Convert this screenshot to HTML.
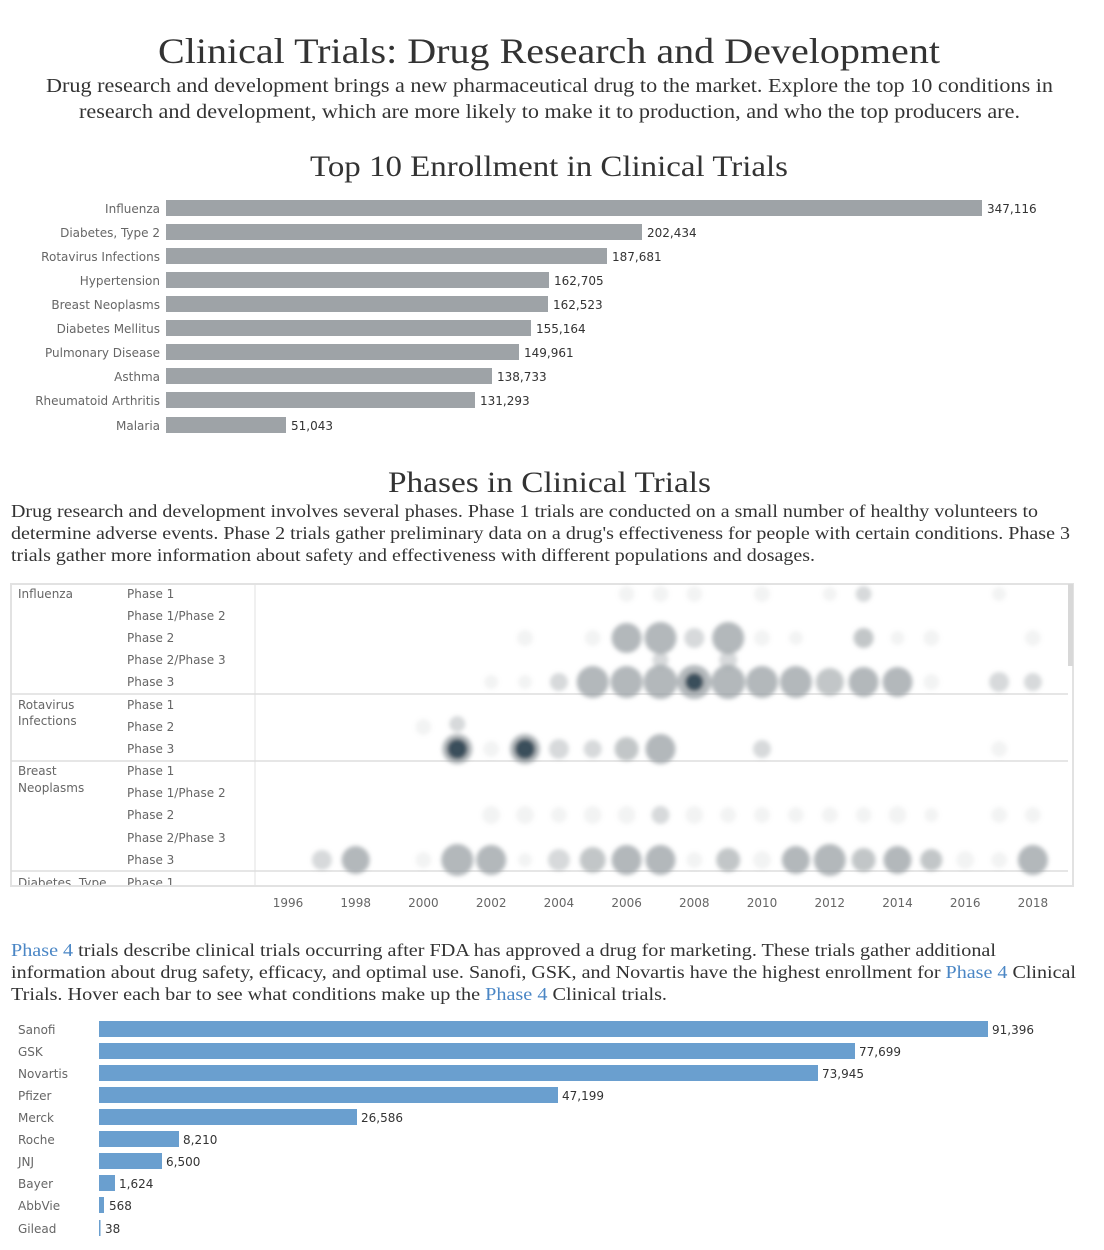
<!DOCTYPE html>
<html><head><meta charset="utf-8"><style>
body{margin:0;background:#fff;}
svg{display:block}
.serif{font-family:"Liberation Serif",serif;fill:#333}
.sans{font-family:"DejaVu Sans","Liberation Sans",sans-serif;font-size:12px;fill:#666}
.val{font-family:"DejaVu Sans","Liberation Sans",sans-serif;font-size:12px;fill:#333}
.g{fill:#9ea3a7}
.bl{fill:#6a9fcf}
.B{fill:#9aa0a4;opacity:.75}
.M{fill:#9aa0a4;opacity:.6}
.S{fill:#9aa0a4;opacity:.4}
.F{fill:#9aa0a4;opacity:.13}
.D{fill:#2f4352;opacity:.9}
.lnk{fill:#4a86c5}
</style></head><body>
<svg width="1104" height="1250" xmlns="http://www.w3.org/2000/svg">
<defs><filter id="bl" x="-50%" y="-50%" width="200%" height="200%"><feGaussianBlur stdDeviation="2.2"/></filter></defs>
<text class="serif" x="158" y="63" font-size="36" textLength="782" lengthAdjust="spacingAndGlyphs">Clinical Trials: Drug Research and Development</text>
<text class="serif" x="46" y="92" font-size="19.5" textLength="1007" lengthAdjust="spacingAndGlyphs">Drug research and development brings a new pharmaceutical drug to the market. Explore the top 10 conditions in</text>
<text class="serif" x="79" y="118" font-size="19.5" textLength="941" lengthAdjust="spacingAndGlyphs">research and development, which are more likely to make it to production, and who the top producers are.</text>
<text class="serif" x="310" y="176" font-size="30" textLength="478" lengthAdjust="spacingAndGlyphs">Top 10 Enrollment in Clinical Trials</text>

<g text-anchor="end" class="sans">
<text x="160" y="213">Influenza</text><text x="160" y="237">Diabetes, Type 2</text><text x="160" y="261">Rotavirus Infections</text><text x="160" y="285">Hypertension</text><text x="160" y="309">Breast Neoplasms</text><text x="160" y="333">Diabetes Mellitus</text><text x="160" y="357">Pulmonary Disease</text><text x="160" y="381">Asthma</text><text x="160" y="405">Rheumatoid Arthritis</text><text x="160" y="430">Malaria</text>
</g>
<g class="g">
<rect x="166" y="200" width="816" height="16"/><rect x="166" y="224" width="476" height="16"/><rect x="166" y="248" width="441" height="16"/><rect x="166" y="272" width="383" height="16"/><rect x="166" y="296" width="382" height="16"/><rect x="166" y="320" width="365" height="16"/><rect x="166" y="344" width="353" height="16"/><rect x="166" y="368" width="326" height="16"/><rect x="166" y="392" width="309" height="16"/><rect x="166" y="417" width="120" height="16"/>
</g>
<g class="val">
<text x="987" y="213">347,116</text><text x="647" y="237">202,434</text><text x="612" y="261">187,681</text><text x="554" y="285">162,705</text><text x="553" y="309">162,523</text><text x="536" y="333">155,164</text><text x="524" y="357">149,961</text><text x="497" y="381">138,733</text><text x="480" y="405">131,293</text><text x="291" y="430">51,043</text>
</g>

<text class="serif" x="388" y="492" font-size="30" textLength="323" lengthAdjust="spacingAndGlyphs">Phases in Clinical Trials</text>
<text class="serif" x="11" y="517" font-size="17.5" textLength="1027" lengthAdjust="spacingAndGlyphs">Drug research and development involves several phases. Phase 1 trials are conducted on a small number of healthy volunteers to</text>
<text class="serif" x="11" y="539" font-size="17.5" textLength="1059" lengthAdjust="spacingAndGlyphs">determine adverse events. Phase 2 trials gather preliminary data on a drug's effectiveness for people with certain conditions. Phase 3</text>
<text class="serif" x="11" y="561" font-size="17.5" textLength="804" lengthAdjust="spacingAndGlyphs">trials gather more information about safety and effectiveness with different populations and dosages.</text>

<rect x="11" y="584" width="1062" height="302" fill="none" stroke="#e2e2e2" stroke-width="2"/>
<line x1="255" y1="584" x2="255" y2="886" stroke="#e2e2e2"/>
<line x1="11" y1="694" x2="1068" y2="694" stroke="#ddd" stroke-width="1.5"/>
<line x1="11" y1="761" x2="1068" y2="761" stroke="#ddd" stroke-width="1.5"/>
<line x1="11" y1="871" x2="1068" y2="871" stroke="#ddd" stroke-width="1.5"/>
<rect x="1068" y="584" width="5" height="82" fill="#d8d8d8"/>
<g class="sans" font-size="11.5">
<text x="18" y="598">Influenza</text><text x="18" y="709">Rotavirus</text><text x="18" y="725">Infections</text><text x="18" y="775">Breast</text><text x="18" y="792">Neoplasms</text><text x="18" y="887">Diabetes, Type</text>
<text x="127" y="598">Phase 1</text><text x="127" y="620">Phase 1/Phase 2</text><text x="127" y="642">Phase 2</text><text x="127" y="664">Phase 2/Phase 3</text><text x="127" y="686">Phase 3</text>
<text x="127" y="709">Phase 1</text><text x="127" y="731">Phase 2</text><text x="127" y="753">Phase 3</text>
<text x="127" y="775">Phase 1</text><text x="127" y="797">Phase 1/Phase 2</text><text x="127" y="819">Phase 2</text><text x="127" y="842">Phase 2/Phase 3</text><text x="127" y="864">Phase 3</text><text x="127" y="887">Phase 1</text>
</g>
<rect x="11" y="885" width="1062" height="10" fill="#fff"/>
<line x1="11" y1="886" x2="1073" y2="886" stroke="#e2e2e2" stroke-width="2"/>
<g filter="url(#bl)">
<circle class="F" cx="626.6" cy="594" r="8"/><circle class="F" cx="660.5" cy="594" r="8"/><circle class="F" cx="694.3" cy="594" r="8"/><circle class="F" cx="762" cy="594" r="8"/><circle class="F" cx="829.8" cy="594" r="7"/><circle class="S" cx="863.6" cy="594" r="8"/><circle class="F" cx="999.1" cy="594" r="7"/>
<circle class="F" cx="525" cy="638" r="8"/><circle class="F" cx="592.7" cy="638" r="8"/><circle class="B" cx="626.6" cy="638" r="15"/><circle class="B" cx="660.5" cy="638" r="16"/><circle class="S" cx="694.3" cy="638" r="10"/><circle class="B" cx="728.2" cy="638" r="16"/><circle class="F" cx="762" cy="638" r="8"/><circle class="F" cx="795.9" cy="638" r="7"/><circle class="M" cx="863.6" cy="638" r="10"/><circle class="F" cx="897.5" cy="638" r="7"/><circle class="F" cx="931.3" cy="638" r="8"/><circle class="F" cx="1032.9" cy="638" r="8"/>
<circle class="S" cx="660.5" cy="660" r="8"/><circle class="S" cx="728.2" cy="660" r="9"/>
<circle class="F" cx="491.2" cy="682" r="7"/><circle class="F" cx="525" cy="682" r="7"/><circle class="S" cx="558.9" cy="682" r="9"/><circle class="B" cx="592.7" cy="682" r="16"/><circle class="B" cx="626.6" cy="682" r="16"/><circle class="B" cx="660.5" cy="682" r="17"/><circle class="B" cx="694.3" cy="682" r="17"/><circle class="D" cx="694.3" cy="682" r="9" opacity=".6"/><circle class="B" cx="728.2" cy="682" r="17"/><circle class="B" cx="762" cy="682" r="16"/><circle class="B" cx="795.9" cy="682" r="16"/><circle class="M" cx="829.8" cy="682" r="14"/><circle class="B" cx="863.6" cy="682" r="15"/><circle class="B" cx="897.5" cy="682" r="15"/><circle class="F" cx="931.3" cy="682" r="8"/><circle class="S" cx="999.1" cy="682" r="10"/><circle class="S" cx="1032.9" cy="682" r="9"/>
<circle class="F" cx="423.4" cy="727" r="8"/><circle class="S" cx="457.3" cy="724" r="8"/>
<circle class="B" cx="457.3" cy="749" r="15"/><circle class="D" cx="457.3" cy="749" r="10"/><circle class="F" cx="491.2" cy="749" r="8"/><circle class="B" cx="525" cy="749" r="15"/><circle class="D" cx="525" cy="749" r="10"/><circle class="S" cx="558.9" cy="749" r="10"/><circle class="S" cx="592.7" cy="749" r="9"/><circle class="M" cx="626.6" cy="749" r="12"/><circle class="B" cx="660.5" cy="749" r="15"/><circle class="S" cx="762" cy="749" r="9"/><circle class="F" cx="999.1" cy="749" r="8"/>
<circle class="F" cx="491.2" cy="815" r="9"/><circle class="F" cx="525" cy="815" r="9"/><circle class="F" cx="558.9" cy="815" r="8"/><circle class="F" cx="592.7" cy="815" r="9"/><circle class="F" cx="626.6" cy="815" r="9"/><circle class="S" cx="660.5" cy="815" r="9"/><circle class="F" cx="694.3" cy="815" r="9"/><circle class="F" cx="728.2" cy="815" r="8"/><circle class="F" cx="762" cy="815" r="8"/><circle class="F" cx="795.9" cy="815" r="8"/><circle class="F" cx="829.8" cy="815" r="8"/><circle class="F" cx="863.6" cy="815" r="8"/><circle class="F" cx="897.5" cy="815" r="9"/><circle class="F" cx="931.3" cy="815" r="7"/><circle class="F" cx="999.1" cy="815" r="8"/><circle class="F" cx="1032.9" cy="815" r="8"/>
<circle class="S" cx="321.9" cy="860" r="10"/><circle class="B" cx="355.7" cy="860" r="14"/><circle class="F" cx="423.4" cy="860" r="8"/><circle class="B" cx="457.3" cy="860" r="16"/><circle class="B" cx="491.2" cy="860" r="15"/><circle class="F" cx="525" cy="860" r="7"/><circle class="S" cx="558.9" cy="860" r="11"/><circle class="M" cx="592.7" cy="860" r="13"/><circle class="B" cx="626.6" cy="860" r="15"/><circle class="B" cx="660.5" cy="860" r="15"/><circle class="F" cx="694.3" cy="860" r="8"/><circle class="M" cx="728.2" cy="860" r="12"/><circle class="F" cx="762" cy="860" r="9"/><circle class="B" cx="795.9" cy="860" r="14"/><circle class="B" cx="829.8" cy="860" r="16"/><circle class="M" cx="863.6" cy="860" r="12"/><circle class="B" cx="897.5" cy="860" r="14"/><circle class="M" cx="931.3" cy="860" r="11"/><circle class="F" cx="965.2" cy="860" r="9"/><circle class="F" cx="999.1" cy="860" r="8"/><circle class="B" cx="1032.9" cy="860" r="15"/>
</g>
<g class="sans" text-anchor="middle">
<text x="288" y="907">1996</text><text x="355.7" y="907">1998</text><text x="423.4" y="907">2000</text><text x="491.2" y="907">2002</text><text x="558.9" y="907">2004</text><text x="626.6" y="907">2006</text><text x="694.3" y="907">2008</text><text x="762" y="907">2010</text><text x="829.8" y="907">2012</text><text x="897.5" y="907">2014</text><text x="965.2" y="907">2016</text><text x="1032.9" y="907">2018</text>
</g>

<text class="serif" x="11" y="956" font-size="17.5" textLength="985" lengthAdjust="spacingAndGlyphs"><tspan class="lnk">Phase 4</tspan> trials describe clinical trials occurring after FDA has approved a drug for marketing. These trials gather additional</text>
<text class="serif" x="11" y="978" font-size="17.5" textLength="1065" lengthAdjust="spacingAndGlyphs">information about drug safety, efficacy, and optimal use. Sanofi, GSK, and Novartis have the highest enrollment for <tspan class="lnk">Phase 4</tspan> Clinical</text>
<text class="serif" x="11" y="1000" font-size="17.5" textLength="656" lengthAdjust="spacingAndGlyphs">Trials. Hover each bar to see what conditions make up the <tspan class="lnk">Phase 4</tspan> Clinical trials.</text>

<g class="sans">
<text x="18" y="1034">Sanofi</text><text x="18" y="1056">GSK</text><text x="18" y="1078">Novartis</text><text x="18" y="1100">Pfizer</text><text x="18" y="1122">Merck</text><text x="18" y="1144">Roche</text><text x="18" y="1166">JNJ</text><text x="18" y="1188">Bayer</text><text x="18" y="1210">AbbVie</text><text x="18" y="1233">Gilead</text>
</g>
<g class="bl">
<rect x="99" y="1021" width="889" height="16"/><rect x="99" y="1043" width="756" height="16"/><rect x="99" y="1065" width="719" height="16"/><rect x="99" y="1087" width="459" height="16"/><rect x="99" y="1109" width="258" height="16"/><rect x="99" y="1131" width="80" height="16"/><rect x="99" y="1153" width="63" height="16"/><rect x="99" y="1175" width="16" height="16"/><rect x="99" y="1197" width="5" height="16"/><rect x="99" y="1220" width="1.5" height="16"/>
</g>
<g class="val">
<text x="992" y="1034">91,396</text><text x="859" y="1056">77,699</text><text x="822" y="1078">73,945</text><text x="562" y="1100">47,199</text><text x="361" y="1122">26,586</text><text x="183" y="1144">8,210</text><text x="166" y="1166">6,500</text><text x="119" y="1188">1,624</text><text x="109" y="1210">568</text><text x="105" y="1233">38</text>
</g>
</svg>
</body></html>
